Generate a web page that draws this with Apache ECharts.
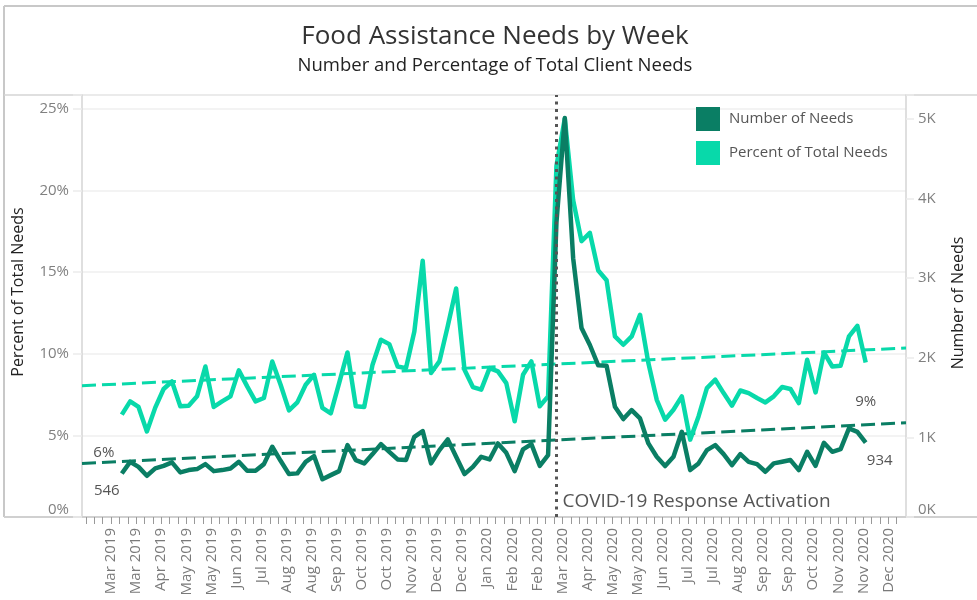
<!DOCTYPE html>
<html>
<head>
<meta charset="utf-8">
<script src="https://cdn.jsdelivr.net/npm/echarts@6/dist/echarts.min.js"></script>
<style>
html,body{margin:0;padding:0;background:#fff;}
#chart{width:977px;height:600px;}
</style>
</head>
<body>
<div id="chart"></div>
<script>
// ---------- data ----------
const firstWeek = '2019-03-17';           // first weekly data point (Sunday)
const percentOfNeeds = [
  6.27, 7.08, 6.74, 5.24, 6.7, 7.84, 8.3, 6.78, 6.82, 7.39,
  9.22, 6.74, 7.08, 7.39, 8.98, 8.0, 7.08, 7.29, 9.53, 8.1,
  6.53, 7.02, 8.1, 8.71, 6.68, 6.35, 8.2, 10.08, 6.78, 6.74,
  9.33, 10.86, 10.59, 9.22, 9.12, 11.36, 15.7, 8.82, 9.53, 11.7,
  14.0, 9.02, 7.96, 7.8, 9.12, 8.92, 8.2, 5.86, 8.71, 9.53,
  6.78, 7.39, 21.5, 24.4, 19.4, 16.9, 17.4, 15.1, 14.5, 11.06,
  10.55, 11.06, 12.39, 9.43, 7.18, 5.96, 6.57, 7.39, 4.74, 6.16,
  7.9, 8.41, 7.59, 6.82, 7.75, 7.59, 7.29, 7.02, 7.39, 7.96,
  7.84, 6.98, 9.63, 7.63, 10.08, 9.22, 9.27, 11.06, 11.71, 9.47
];
const numberOfNeeds = [
  546, 693, 630, 518, 610, 643, 686, 560, 589, 602,
  664, 576, 589, 610, 693, 580, 580, 664, 882, 706,
  539, 548, 693, 765, 474, 526, 576, 903, 715, 673,
  790, 916, 819, 723, 715, 1007, 1079, 673, 840, 975,
  756, 539, 630, 756, 723, 924, 806, 576, 849, 916,
  643, 777, 3700, 5010, 3250, 2373, 2160, 1905, 1900, 1384,
  1230, 1343, 1238, 924, 756, 639, 756, 1070, 589, 673,
  840, 903, 790, 652, 790, 693, 664, 568, 673, 693,
  715, 589, 819, 643, 932, 819, 853, 1113, 1070, 934
];
const trendPercent = [8.04, 10.35];   // at axis start / end
const trendNumber  = [673, 1183];
const covidDate = '2020-03-15';
const tickStartDate = '2019-02-15';
const tickCount = 98;
const tickLabels = [
  'Mar 2019','Mar 2019','Apr 2019','May 2019','May 2019','Jun 2019','Jul 2019','Aug 2019',
  'Aug 2019','Sep 2019','Oct 2019','Oct 2019','Nov 2019','Dec 2019','Dec 2019','Jan 2020',
  'Feb 2020','Feb 2020','Mar 2020','Apr 2020','May 2020','May 2020','Jun 2020','Jul 2020',
  'Jul 2020','Aug 2020','Sep 2020','Sep 2020','Oct 2020','Nov 2020','Nov 2020','Dec 2020'
];
const axisStart = '2019-02-11T16:00:00Z';
const axisEnd   = '2021-01-01T18:00:00Z';

// ---------- build ----------
const DAY = 86400000, WEEK = 7 * DAY;
const t0 = Date.parse(firstWeek + 'T00:00:00Z');
const weekTs = percentOfNeeds.map((_, i) => t0 + i * WEEK);
const pctData = percentOfNeeds.map((v, i) => [weekTs[i], v]);
const numData = numberOfNeeds.map((v, i) => [weekTs[i], v]);
const xMin = Date.parse(axisStart), xMax = Date.parse(axisEnd);
const tickBase = Date.parse(tickStartDate + 'T00:00:00Z');
const tickValues = [];
for (let k = 0; k < tickCount; k++) tickValues.push(tickBase + k * WEEK);
const labelValues = tickLabels.map((_, j) => tickValues[3 + 3 * j]);
const labelMap = {};
labelValues.forEach((v, j) => labelMap[v] = tickLabels[j]);
const covidTs = Date.parse(covidDate + 'T00:00:00Z');

const DARK = '#0a7e64', BRIGHT = '#08d9aa';
const FONT = '"Open Sans"';
const lastI = percentOfNeeds.length - 1;

const chart = echarts.init(document.getElementById('chart'), null, {renderer: 'canvas'});
chart.setOption({
  animation: false,
  textStyle: {fontFamily: FONT},
  grid: {left: 82, right: 71, top: 95, bottom: 83, containLabel: false},
  legend: {
    data: ['Number of Needs', 'Percent of Total Needs'],
    orient: 'vertical', left: 696, top: 107, icon: 'rect', padding: 0,
    itemWidth: 24, itemHeight: 24, itemGap: 10,
    textStyle: {fontSize: 15, color: '#555', fontFamily: FONT, padding: [2, 0, 0, 4]}
  },
  xAxis: {
    type: 'value', min: xMin, max: xMax,
    axisLine: {show: true, lineStyle: {color: '#d0d0d0', width: 2}},
    axisTick: {show: true, customValues: tickValues, length: 7, lineStyle: {color: '#999', width: 1}},
    axisLabel: {
      customValues: labelValues, rotate: 90, margin: 11, fontSize: 15, color: '#7a7a7a', fontFamily: FONT,
      formatter: v => labelMap[v] || ''
    },
    splitLine: {show: false}
  },
  yAxis: [
    {
      type: 'value', min: 0, max: 25.85, interval: 5, position: 'left',
      axisLine: {show: true, lineStyle: {color: '#d4d4d4', width: 1.5}},
      axisTick: {show: true, length: 9, lineStyle: {color: '#ececec', width: 1.5}},
      axisLabel: {
        fontSize: 15, color: '#808080', margin: 13, fontFamily: FONT,
        verticalAlignMinLabel: 'bottom',
        formatter: v => (Math.abs(v % 5) < 1e-9 ? v + '%' : '')
      },
      splitLine: {show: true, lineStyle: {color: '#efefef', width: 1.5}}
    },
    {
      type: 'value', min: 0, max: 5300, interval: 1000, position: 'right',
      axisLine: {show: true, lineStyle: {color: '#d4d4d4', width: 1.5}},
      axisTick: {show: true, length: 8, lineStyle: {color: '#ececec', width: 1.5}},
      axisLabel: {
        fontSize: 15, color: '#808080', margin: 12, fontFamily: FONT,
        verticalAlignMinLabel: 'bottom',
        formatter: v => (v % 1000 === 0 ? (v / 1000) + 'K' : '')
      },
      splitLine: {show: false}
    }
  ],
  series: [
    {
      name: 'Percent trend', type: 'line', yAxisIndex: 0, symbol: 'none', silent: true,
      data: [[xMin, trendPercent[0]], [xMax, trendPercent[1]]],
      lineStyle: {color: BRIGHT, width: 3, type: [14, 6]}, z: 2
    },
    {
      name: 'Number trend', type: 'line', yAxisIndex: 1, symbol: 'none', silent: true,
      data: [[xMin, trendNumber[0]], [xMax, trendNumber[1]]],
      lineStyle: {color: DARK, width: 3, type: [14, 6]}, z: 2
    },
    {
      name: 'Percent of Total Needs', type: 'line', yAxisIndex: 0, symbol: 'none',
      data: pctData, itemStyle: {color: BRIGHT},
      lineStyle: {color: BRIGHT, width: 4.5, join: 'round'}, z: 3,
      markLine: {
        silent: true, symbol: 'none',
        lineStyle: {color: '#555', width: 3, type: [3, 4.5]},
        label: {show: false},
        data: [{xAxis: covidTs}]
      },
      markPoint: {
        symbol: 'circle', symbolSize: 0,
        data: [
          {coord: [weekTs[0], percentOfNeeds[0]],
           label: {show: true, formatter: Math.round(percentOfNeeds[0]) + '%', offset: [-18, 38], fontSize: 15, color: '#555', fontFamily: FONT}},
          {coord: [weekTs[lastI], percentOfNeeds[lastI]],
           label: {show: true, formatter: Math.floor(percentOfNeeds[lastI]) + '%', offset: [0, 39], fontSize: 15, color: '#555', fontFamily: FONT}},
          {coord: [covidTs, 0],
           label: {show: true, formatter: 'COVID-19 Response Activation', position: 'right', offset: [1, -15], fontSize: 19, color: '#555', fontFamily: FONT}}
        ]
      }
    },
    {
      name: 'Number of Needs', type: 'line', yAxisIndex: 1, symbol: 'none',
      data: numData, itemStyle: {color: DARK},
      lineStyle: {color: DARK, width: 4.5, join: 'round'}, z: 4,
      markPoint: {
        symbol: 'circle', symbolSize: 0,
        data: [
          {coord: [weekTs[0], numberOfNeeds[0]],
           label: {show: true, formatter: String(numberOfNeeds[0]), offset: [-15, 17], fontSize: 15, color: '#555', fontFamily: FONT}},
          {coord: [weekTs[lastI], numberOfNeeds[lastI]],
           label: {show: true, formatter: String(numberOfNeeds[lastI]), offset: [14, 18], fontSize: 15, color: '#555', fontFamily: FONT}}
        ]
      }
    }
  ],
  graphic: [
    {type: 'line', shape: {x1: 4, y1: 6, x2: 977, y2: 6}, style: {stroke: '#c8c8c8', lineWidth: 2}, silent: true},
    {type: 'line', shape: {x1: 4, y1: 6, x2: 4, y2: 517}, style: {stroke: '#c8c8c8', lineWidth: 2}, silent: true},
    {type: 'line', shape: {x1: 4, y1: 95, x2: 977, y2: 95}, style: {stroke: '#d4d4d4', lineWidth: 1.5}, silent: true},
    {type: 'line', shape: {x1: 4, y1: 517, x2: 977, y2: 517}, style: {stroke: '#d0d0d0', lineWidth: 2}, silent: true},
    {type: 'text', x: 495, y: 37, style: {text: 'Food Assistance Needs by Week', font: '26px ' + FONT, fill: '#333', textAlign: 'center', textVerticalAlign: 'middle'}},
    {type: 'text', x: 495, y: 66, style: {text: 'Number and Percentage of Total Client Needs', font: '500 18.5px ' + FONT, fill: '#222', textAlign: 'center', textVerticalAlign: 'middle'}},
    {type: 'text', x: 18, y: 292, rotation: Math.PI / 2, style: {text: 'Percent of Total Needs', font: '16px ' + FONT, fill: '#222', textAlign: 'center', textVerticalAlign: 'middle'}},
    {type: 'text', x: 958, y: 303, rotation: Math.PI / 2, style: {text: 'Number of Needs', font: '16px ' + FONT, fill: '#222', textAlign: 'center', textVerticalAlign: 'middle'}}
  ]
});
</script>
</body>
</html>
